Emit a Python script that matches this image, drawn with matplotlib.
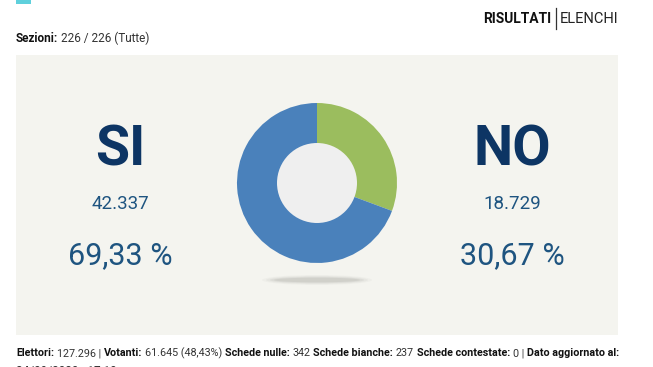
import matplotlib
matplotlib.use("Agg")
import matplotlib.pyplot as plt
from matplotlib.patches import Rectangle, Ellipse

plt.rcParams['font.family'] = ['Roboto', 'DejaVu Sans']

# data
labels = ["SI", "NO"]
votes = [42337, 18729]
vote_labels = ["42.337", "18.729"]
pct_labels = ["69,33 %", "30,67 %"]
colors = {"SI": "#4a81bb", "NO": "#9bbd5e"}

header_left = [("Sezioni:", True), ("226 / 226 (Tutte)", False)]
footer = [("Elettori:", True), ("127.296 |", False), ("Votanti:", True),
          ("61.645 (48,43%)", False), ("Schede nulle:", True), ("342", False),
          ("Schede bianche:", True), ("237", False), ("Schede contestate:", True),
          ("0 |", False), ("Dato aggiornato al:", True)]
footer2 = "24/09/2020 - 17:10"

W, H = 653, 367
fig = plt.figure(figsize=(W / 100, H / 100), dpi=100)
fig.patch.set_facecolor("white")
ax = fig.add_axes([0, 0, 1, 1])
ax.set_xlim(0, W)
ax.set_ylim(H, 0)
ax.axis("off")

# decorative cyan block
ax.add_patch(Rectangle((16, -2), 15, 6, color="#5fd0dc", lw=0))
# panel
ax.add_patch(Rectangle((16, 55), 602, 280, color="#f4f4ef", lw=0))

renderer = fig.canvas.get_renderer()


def seq_text(x, y, parts, size, color="#333333", target=None):
    texts = []
    x0 = x
    gap = size * 100 / 72 * 0.26
    for i, (s, bold) in enumerate(parts):
        t = ax.text(x, y, s, fontsize=size, fontweight="bold" if bold else "normal",
                    color="#111111" if bold else color, va="baseline", ha="left")
        bb = t.get_window_extent(renderer=renderer)
        x += bb.width + (gap if i < len(parts) - 1 else 0)
        texts.append(t)
    if target is not None and (x - x0) > target:
        for t in texts:
            t.remove()
        seq_text(x0, y, parts, size * target / (x - x0), color)


seq_text(16, 42, header_left, 8.5)
ax.text(551, 23, "RISULTATI", fontsize=10, fontweight="bold", color="#111111",
        ha="right", va="baseline")
ax.plot([556, 556], [8, 29], color="#333333", lw=0.9)
ax.text(560, 23, "ELENCHI", fontsize=10.5, color="#222222", ha="left", va="baseline")

seq_text(16, 356, footer, 8.5, target=600)
ax.text(16, 375, footer2, fontsize=8.5, color="#333333", va="baseline")

# left / right texts
xs = {"SI": 120, "NO": 512}
for lab, vl, pl in zip(labels, vote_labels, pct_labels):
    x = xs[lab]
    ax.text(x, 165, lab, fontsize=40, fontweight="bold", color="#0d3564",
            ha="center", va="baseline")
    ax.text(x, 209, vl, fontsize=13.5, color="#1e5480", ha="center", va="baseline")
    ax.text(x, 264, pl, fontsize=22, color="#1e5480", ha="center", va="baseline")

# shadow
for i, a in enumerate([0.05, 0.07, 0.1, 0.14]):
    ax.add_patch(Ellipse((317, 280), 110 - i * 8, 10 - i * 1.8, color="#888880",
                         alpha=a, lw=0))

# donut
cx, cy, r = 317, 183, 80
pax = fig.add_axes([(cx - r) / W, (H - cy - r) / H, 2 * r / W, 2 * r / H])
pax.set_aspect("equal")
order = ["NO", "SI"]
vals = [votes[labels.index(k)] for k in order]
pax.pie(vals, colors=[colors[k] for k in order], startangle=90, counterclock=False,
        radius=1.0, wedgeprops=dict(width=1.0, linewidth=0))
pax.add_patch(plt.Circle((0, 0), 0.5, color="#efefef", lw=0))
pax.set_xlim(-1, 1)
pax.set_ylim(-1, 1)

fig.savefig("out.png", dpi=100, facecolor="white")
